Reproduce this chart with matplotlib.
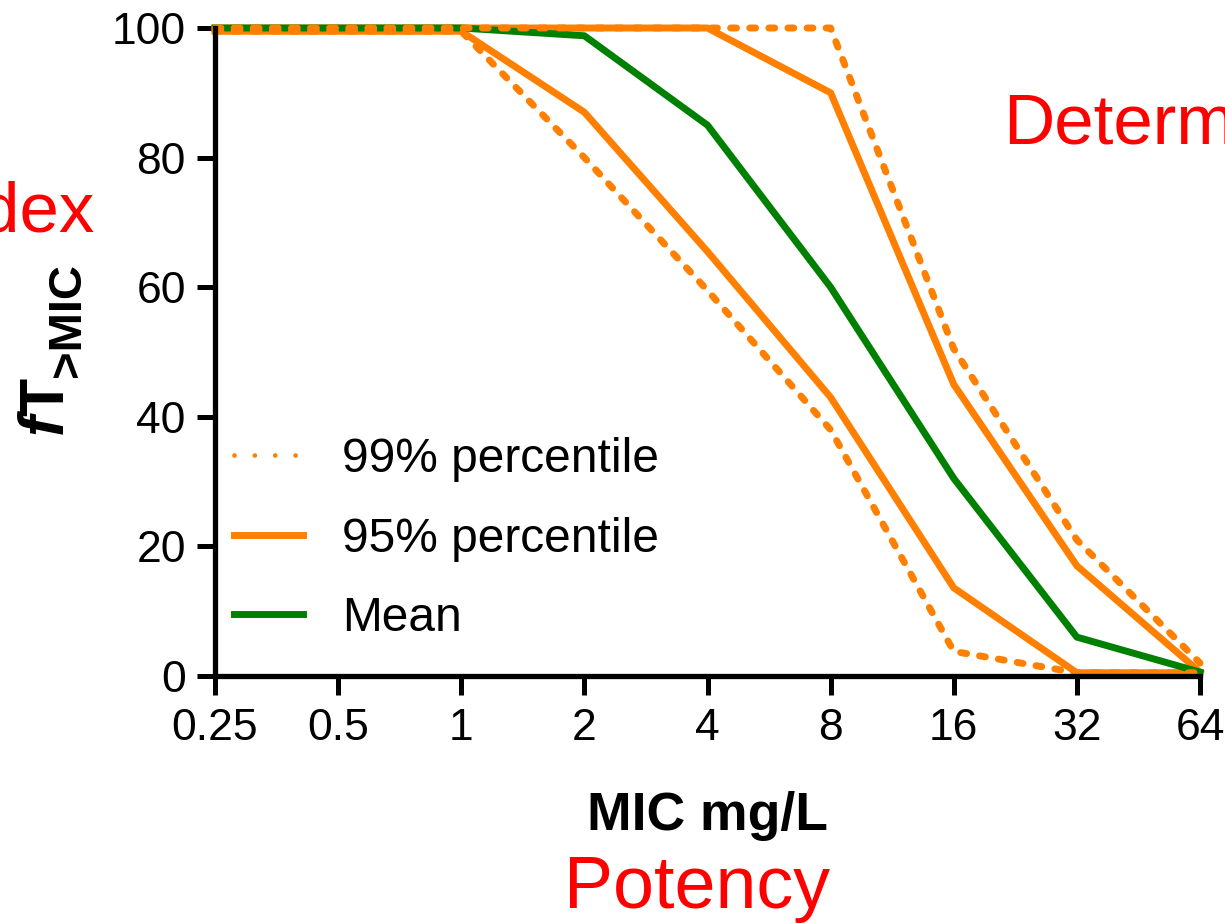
import numpy as np
import matplotlib
matplotlib.use("Agg")
import matplotlib.pyplot as plt
from matplotlib.ticker import FixedLocator, FixedFormatter, NullLocator

plt.rcParams["font.family"] = ["Liberation Sans", "DejaVu Sans"]
plt.rcParams["mathtext.fontset"] = "custom"
plt.rcParams["mathtext.rm"] = "Liberation Sans"
plt.rcParams["mathtext.bf"] = "Liberation Sans:bold"
plt.rcParams["mathtext.bfit"] = "Liberation Sans:italic:bold"
plt.rcParams["mathtext.it"] = "Liberation Sans:italic"

# ---- data ------------------------------------------------------------------
mic = [0.25, 0.5, 1, 2, 4, 8, 16, 32, 64]
mic_labels = ["0.25", "0.5", "1", "2", "4", "8", "16", "32", "64"]
p99_hi = [100, 100, 100, 100, 100, 100, 50.5, 21, 2]
p95_hi = [100, 100, 100, 100, 100, 90, 45, 17, 0.6]
mean = [100, 100, 100, 98.8, 85, 60, 30.5, 6, 0.6]
p95_lo = [99.5, 99.5, 99.5, 87, 65.5, 43, 13.6, 0.5, 0.5]
p99_lo = [99.5, 99.5, 99.5, 80, 59.5, 38, 3.8, 0.5, 0.5]
yticks = [0, 20, 40, 60, 80, 100]

ORANGE = "#ff8000"; GREEN = "#008000"; RED = "#ff0000"
W, H = 1225, 923

fig = plt.figure(figsize=(W/100, H/100), dpi=100)
ax = fig.add_axes([215/W, 1-676/H, 985/W, 648/H])

lw = 5.0
dot = dict(color=ORANGE, lw=lw, ls=(0, (0.85, 1.9)), dash_capstyle="round", clip_on=False)
sol = dict(color=ORANGE, lw=lw, clip_on=False)
ax.plot(mic, p95_lo, **sol)
ax.plot(mic, p95_hi, **sol, label="95% percentile")
ax.plot(mic, mean, color=GREEN, lw=lw, clip_on=False, label="Mean")
ax.plot(mic, p99_lo, **dot)
ax.plot(mic, p99_hi, **dot)
# legend handle for the dotted series (small round dots)
ax.plot([], [], color=ORANGE, lw=3.4, ls=(0, (0.01, 4.3)), dash_capstyle="round", label="99% percentile")

ax.set_xscale("log", base=2)
ax.set_xlim(0.25, 64)
ax.set_ylim(0, 100)
ax.xaxis.set_major_locator(FixedLocator(mic))
ax.xaxis.set_major_formatter(FixedFormatter(mic_labels))
ax.xaxis.set_minor_locator(NullLocator())
ax.set_yticks(yticks)

for s in ["top", "right"]:
    ax.spines[s].set_visible(False)
for s in ["left", "bottom"]:
    ax.spines[s].set_linewidth(3.8)
    ax.spines[s].set_capstyle("projecting")
ax.tick_params(axis="both", width=3.6, labelsize=32, direction="out")
ax.tick_params(axis="x", length=14, pad=9)
ax.tick_params(axis="y", length=13, pad=8)

h, l = ax.get_legend_handles_labels()
order = [2, 0, 1]
ax.legend([h[i] for i in order], [l[i] for i in order], frameon=False, fontsize=34.5,
          loc="upper left", bbox_to_anchor=(234/W, 1-437/H), bbox_transform=fig.transFigure,
          handlelength=1.45, handletextpad=0.8, labelspacing=0.72, borderpad=0, borderaxespad=0)

ax.set_xlabel("MIC mg/L", fontsize=38.5, fontweight="bold", labelpad=30)

# y label: fT with a >MIC subscript
fig.text(64/W, 1-437/H, r"$\mathbfit{f}\mathbf{T}$", fontsize=45, rotation=90,
         rotation_mode="anchor", ha="left", va="baseline")
fig.text(80/W, 1-377/H, ">MIC", fontsize=34, fontweight="bold", rotation=90,
         rotation_mode="anchor", ha="left", va="baseline")

# red annotation words from the surrounding slide
fig.text(95/W, 1-232/H, "Index", color=RED, fontsize=51, ha="right", va="baseline")
fig.text(1003/W, 1-143/H, "Determinant", color=RED, fontsize=51, ha="left", va="baseline")
fig.text(697/W, 1-908/H, "Potency", color=RED, fontsize=53, ha="center", va="baseline")

fig.savefig("out.png", dpi=100)
